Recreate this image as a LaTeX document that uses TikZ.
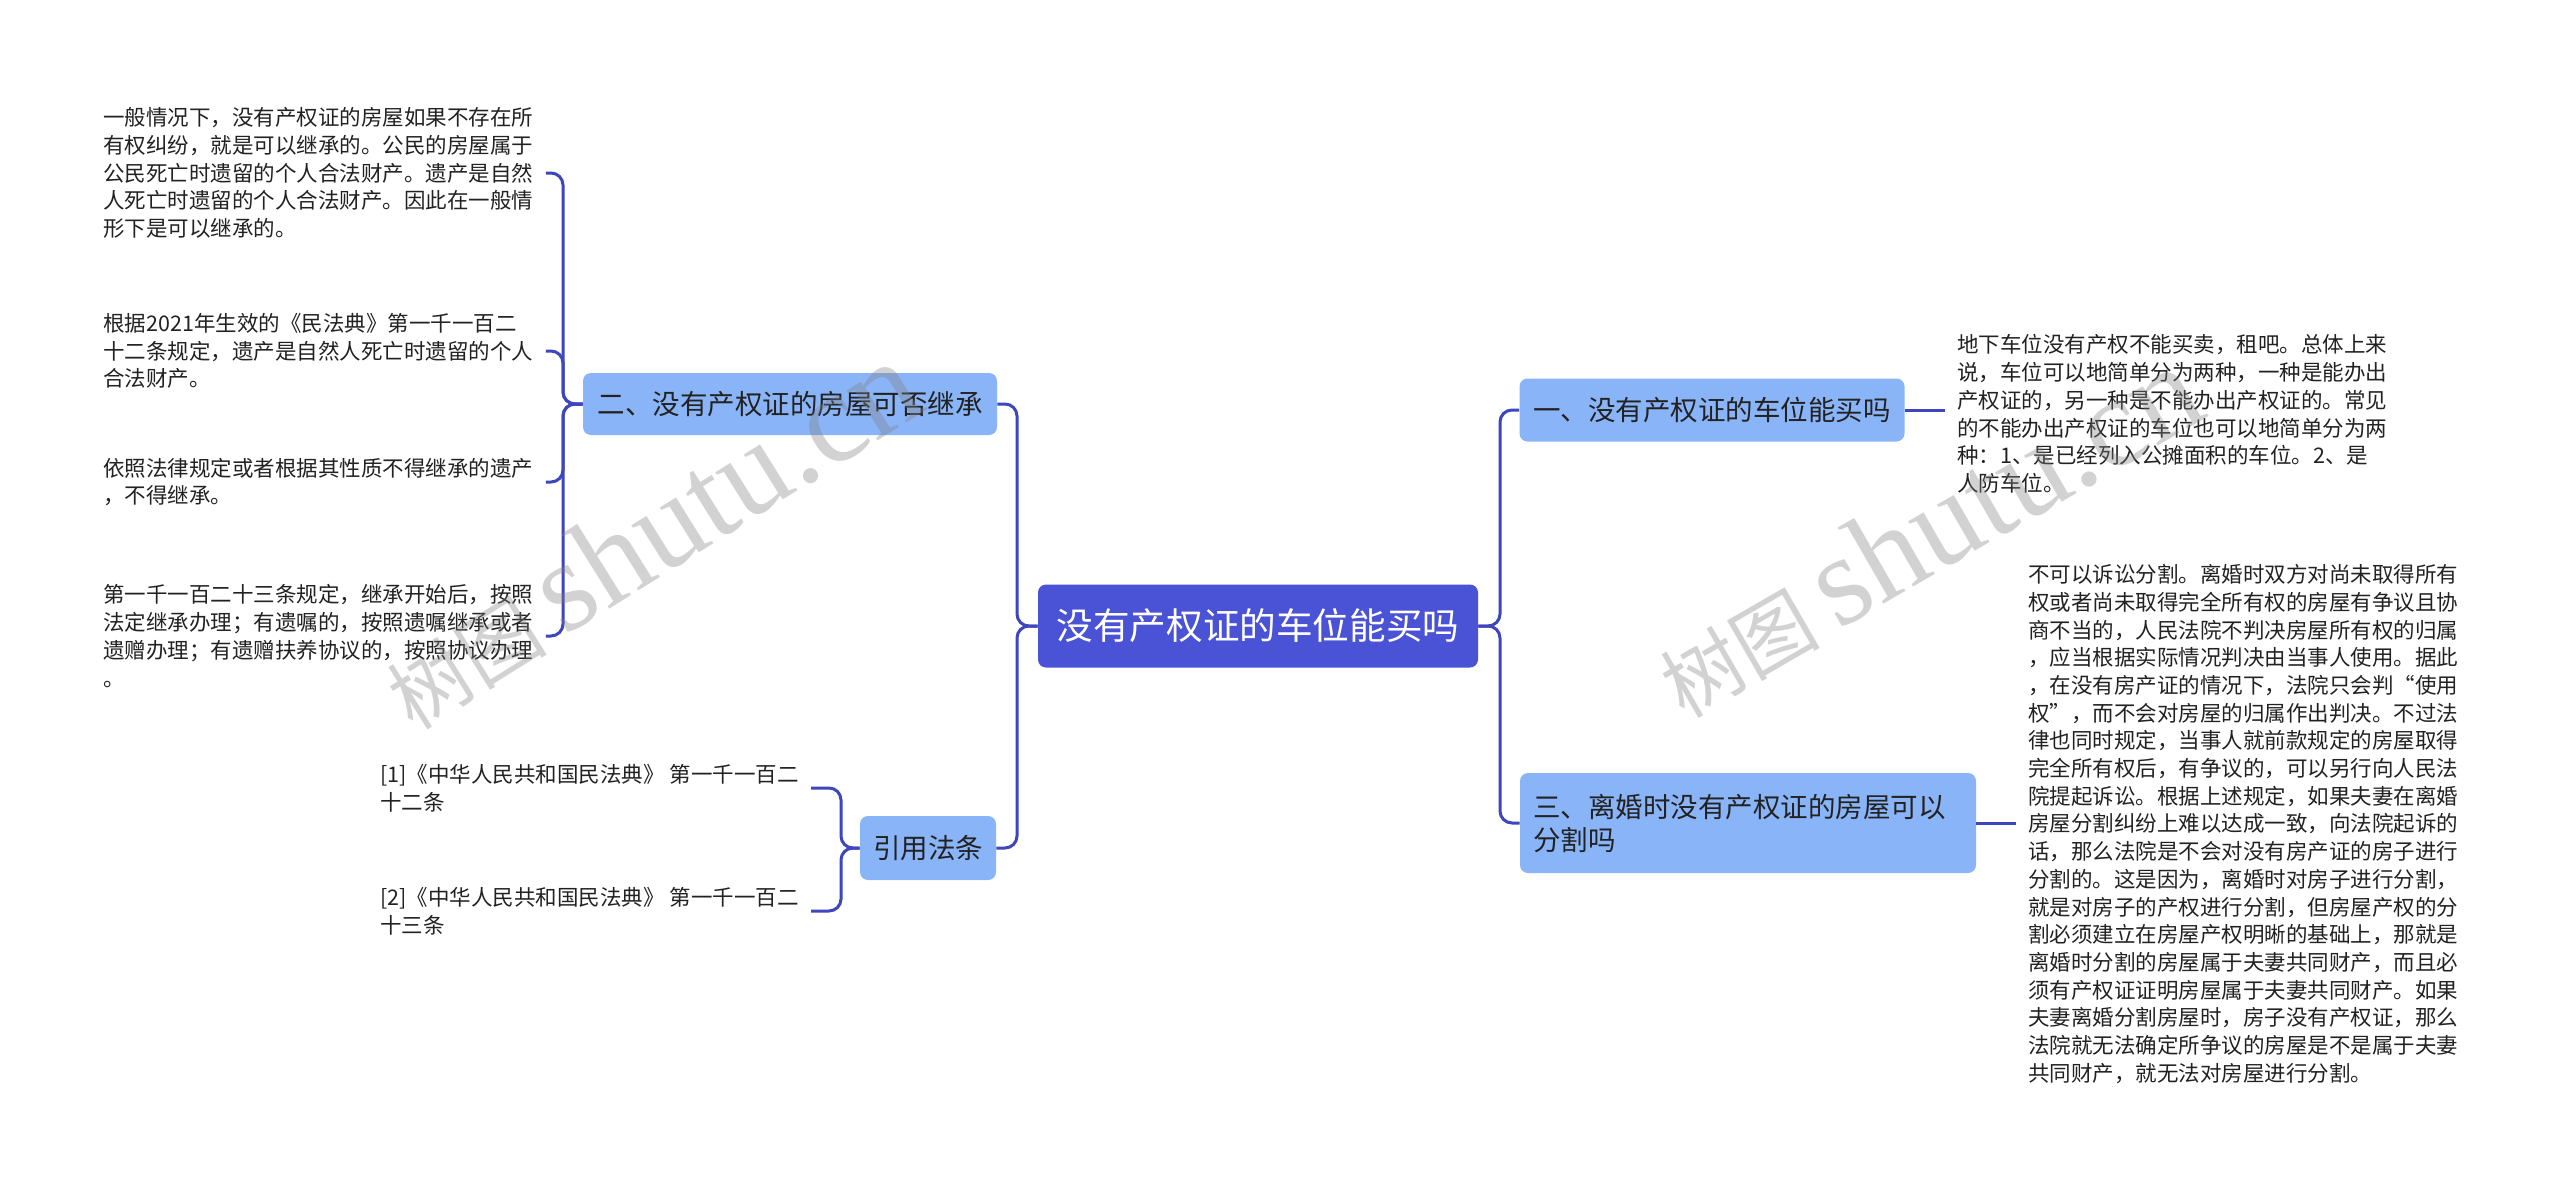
\documentclass[tikz,border=0pt]{standalone}
\usepackage{fontspec}
\setmainfont{Noto Sans CJK SC}
\newfontfamily\wmserif{Liberation Serif}
\definecolor{rootc}{RGB}{74,82,214}
\definecolor{lvc}{RGB}{138,180,248}
\definecolor{linec}{RGB}{62,70,190}
\definecolor{txtc}{RGB}{34,34,34}
\begin{document}
\begin{tikzpicture}[x=0.5pt,y=-0.5pt,
  conn/.style={draw=linec,line width=1.5pt,rounded corners=6pt},
  rootbox/.style={fill=rootc,rounded corners=4pt,text=white,font=\fontsize{18.3}{22}\selectfont,inner sep=0pt},
  lvbox/.style={fill=lvc,rounded corners=4pt,text=txtc,font=\fontsize{13.75}{16.5}\selectfont,inner sep=0pt},
  leaf/.style={text=txtc,font=\fontsize{10.75}{13.85}\selectfont,align=left,inner xsep=6pt,inner ysep=0pt,anchor=west},
  wm/.style={text=gray,opacity=0.35,font=\fontsize{40}{40}\selectfont}]
\useasboundingbox[fill=white] (0,0) rectangle (2560,1189);

% root
\node[rootbox,minimum width=220pt,minimum height=41.5pt] (root) at (1258,626) {没有产权证的车位能买吗};

% level 1
\node[lvbox,minimum width=192.5pt,minimum height=31.5pt] (n1) at (1712,410) {一、没有产权证的车位能买吗};
\node[lvbox,minimum width=207pt,minimum height=31pt] (n2) at (790,404) {二、没有产权证的房屋可否继承};
\node[lvbox,minimum width=68pt,minimum height=32pt] (n4) at (928,848) {引用法条};
\node[lvbox,text width=215pt,align=left,inner xsep=6.5pt,minimum height=50pt] (n3) at (1748,823) {三、离婚时没有产权证的房屋可以\\分割吗};

% left leaves
\node[leaf] (l1) at (91,173) {一般情况下，没有产权证的房屋如果不存在所\\有权纠纷，就是可以继承的。公民的房屋属于\\公民死亡时遗留的个人合法财产。遗产是自然\\人死亡时遗留的个人合法财产。因此在一般情\\形下是可以继承的。};
\node[leaf] (l2) at (91,351) {根据2021年生效的《民法典》第一千一百二\\十二条规定，遗产是自然人死亡时遗留的个人\\合法财产。};
\node[leaf] (l3) at (91,482) {依照法律规定或者根据其性质不得继承的遗产\\，不得继承。};
\node[leaf] (l4) at (91,636) {第一千一百二十三条规定，继承开始后，按照\\法定继承办理；有遗嘱的，按照遗嘱继承或者\\遗赠办理；有遗赠扶养协议的，按照协议办理\\。};

% references
\node[leaf] (ref1) at (368,788) {[1]《中华人民共和国民法典》 第一千一百二\\十二条};
\node[leaf] (ref2) at (368,911) {[2]《中华人民共和国民法典》 第一千一百二\\十三条};

% right leaves
\node[leaf] (r1) at (1945,414) {地下车位没有产权不能买卖，租吧。总体上来\\说，车位可以地简单分为两种，一种是能办出\\产权证的，另一种是不能办出产权证的。常见\\的不能办出产权证的车位也可以地简单分为两\\种：1、是已经列入公摊面积的车位。2、是\\人防车位。};
\node[leaf] (r2) at (2016,824) {不可以诉讼分割。离婚时双方对尚未取得所有\\权或者尚未取得完全所有权的房屋有争议且协\\商不当的，人民法院不判决房屋所有权的归属\\，应当根据实际情况判决由当事人使用。据此\\，在没有房产证的情况下，法院只会判“使用\\权”，而不会对房屋的归属作出判决。不过法\\律也同时规定，当事人就前款规定的房屋取得\\完全所有权后，有争议的，可以另行向人民法\\院提起诉讼。根据上述规定，如果夫妻在离婚\\房屋分割纠纷上难以达成一致，向法院起诉的\\话，那么法院是不会对没有房产证的房子进行\\分割的。这是因为，离婚时对房子进行分割，\\就是对房子的产权进行分割，但房屋产权的分\\割必须建立在房屋产权明晰的基础上，那就是\\离婚时分割的房屋属于夫妻共同财产，而且必\\须有产权证证明房屋属于夫妻共同财产。如果\\夫妻离婚分割房屋时，房子没有产权证，那么\\法院就无法确定所争议的房屋是不是属于夫妻\\共同财产，就无法对房屋进行分割。};

% junctions
\coordinate (jl) at (1017,626);
\coordinate (jr) at (1500,626);
\coordinate (j2) at (563,404);
\coordinate (j4) at (841,848);

% connectors
\draw[conn] (root.west) -- (jl) |- (n2.east);
\draw[conn] (root.west) -- (jl) |- (n4.east);
\draw[conn] (root.east) -- (jr) |- (n1.west);
\draw[conn] (root.east) -- (jr) |- (n3.west);
\draw[conn] (n2.west) -- (j2) |- (l1.east);
\draw[conn] (n2.west) -- (j2) |- (l2.east);
\draw[conn] (n2.west) -- (j2) |- (l3.east);
\draw[conn] (n2.west) -- (j2) |- (l4.east);
\draw[conn] (n4.west) -- (j4) |- (ref1.east);
\draw[conn] (n4.west) -- (j4) |- (ref2.east);
\draw[conn] (n1.east) -- (n1.east -| r1.west);
\draw[conn] (n3.east) -- (n3.east -| r2.west);

% watermarks
\node[wm,rotate=32] (wm1) at (650,535) {树图 {\wmserif\fontsize{64}{64}\selectfont shutu.cn}};
\node[wm,rotate=30] (wm2) at (1927,532) {树图 {\wmserif\fontsize{64}{64}\selectfont shutu.cn}};
\end{tikzpicture}
\end{document}
